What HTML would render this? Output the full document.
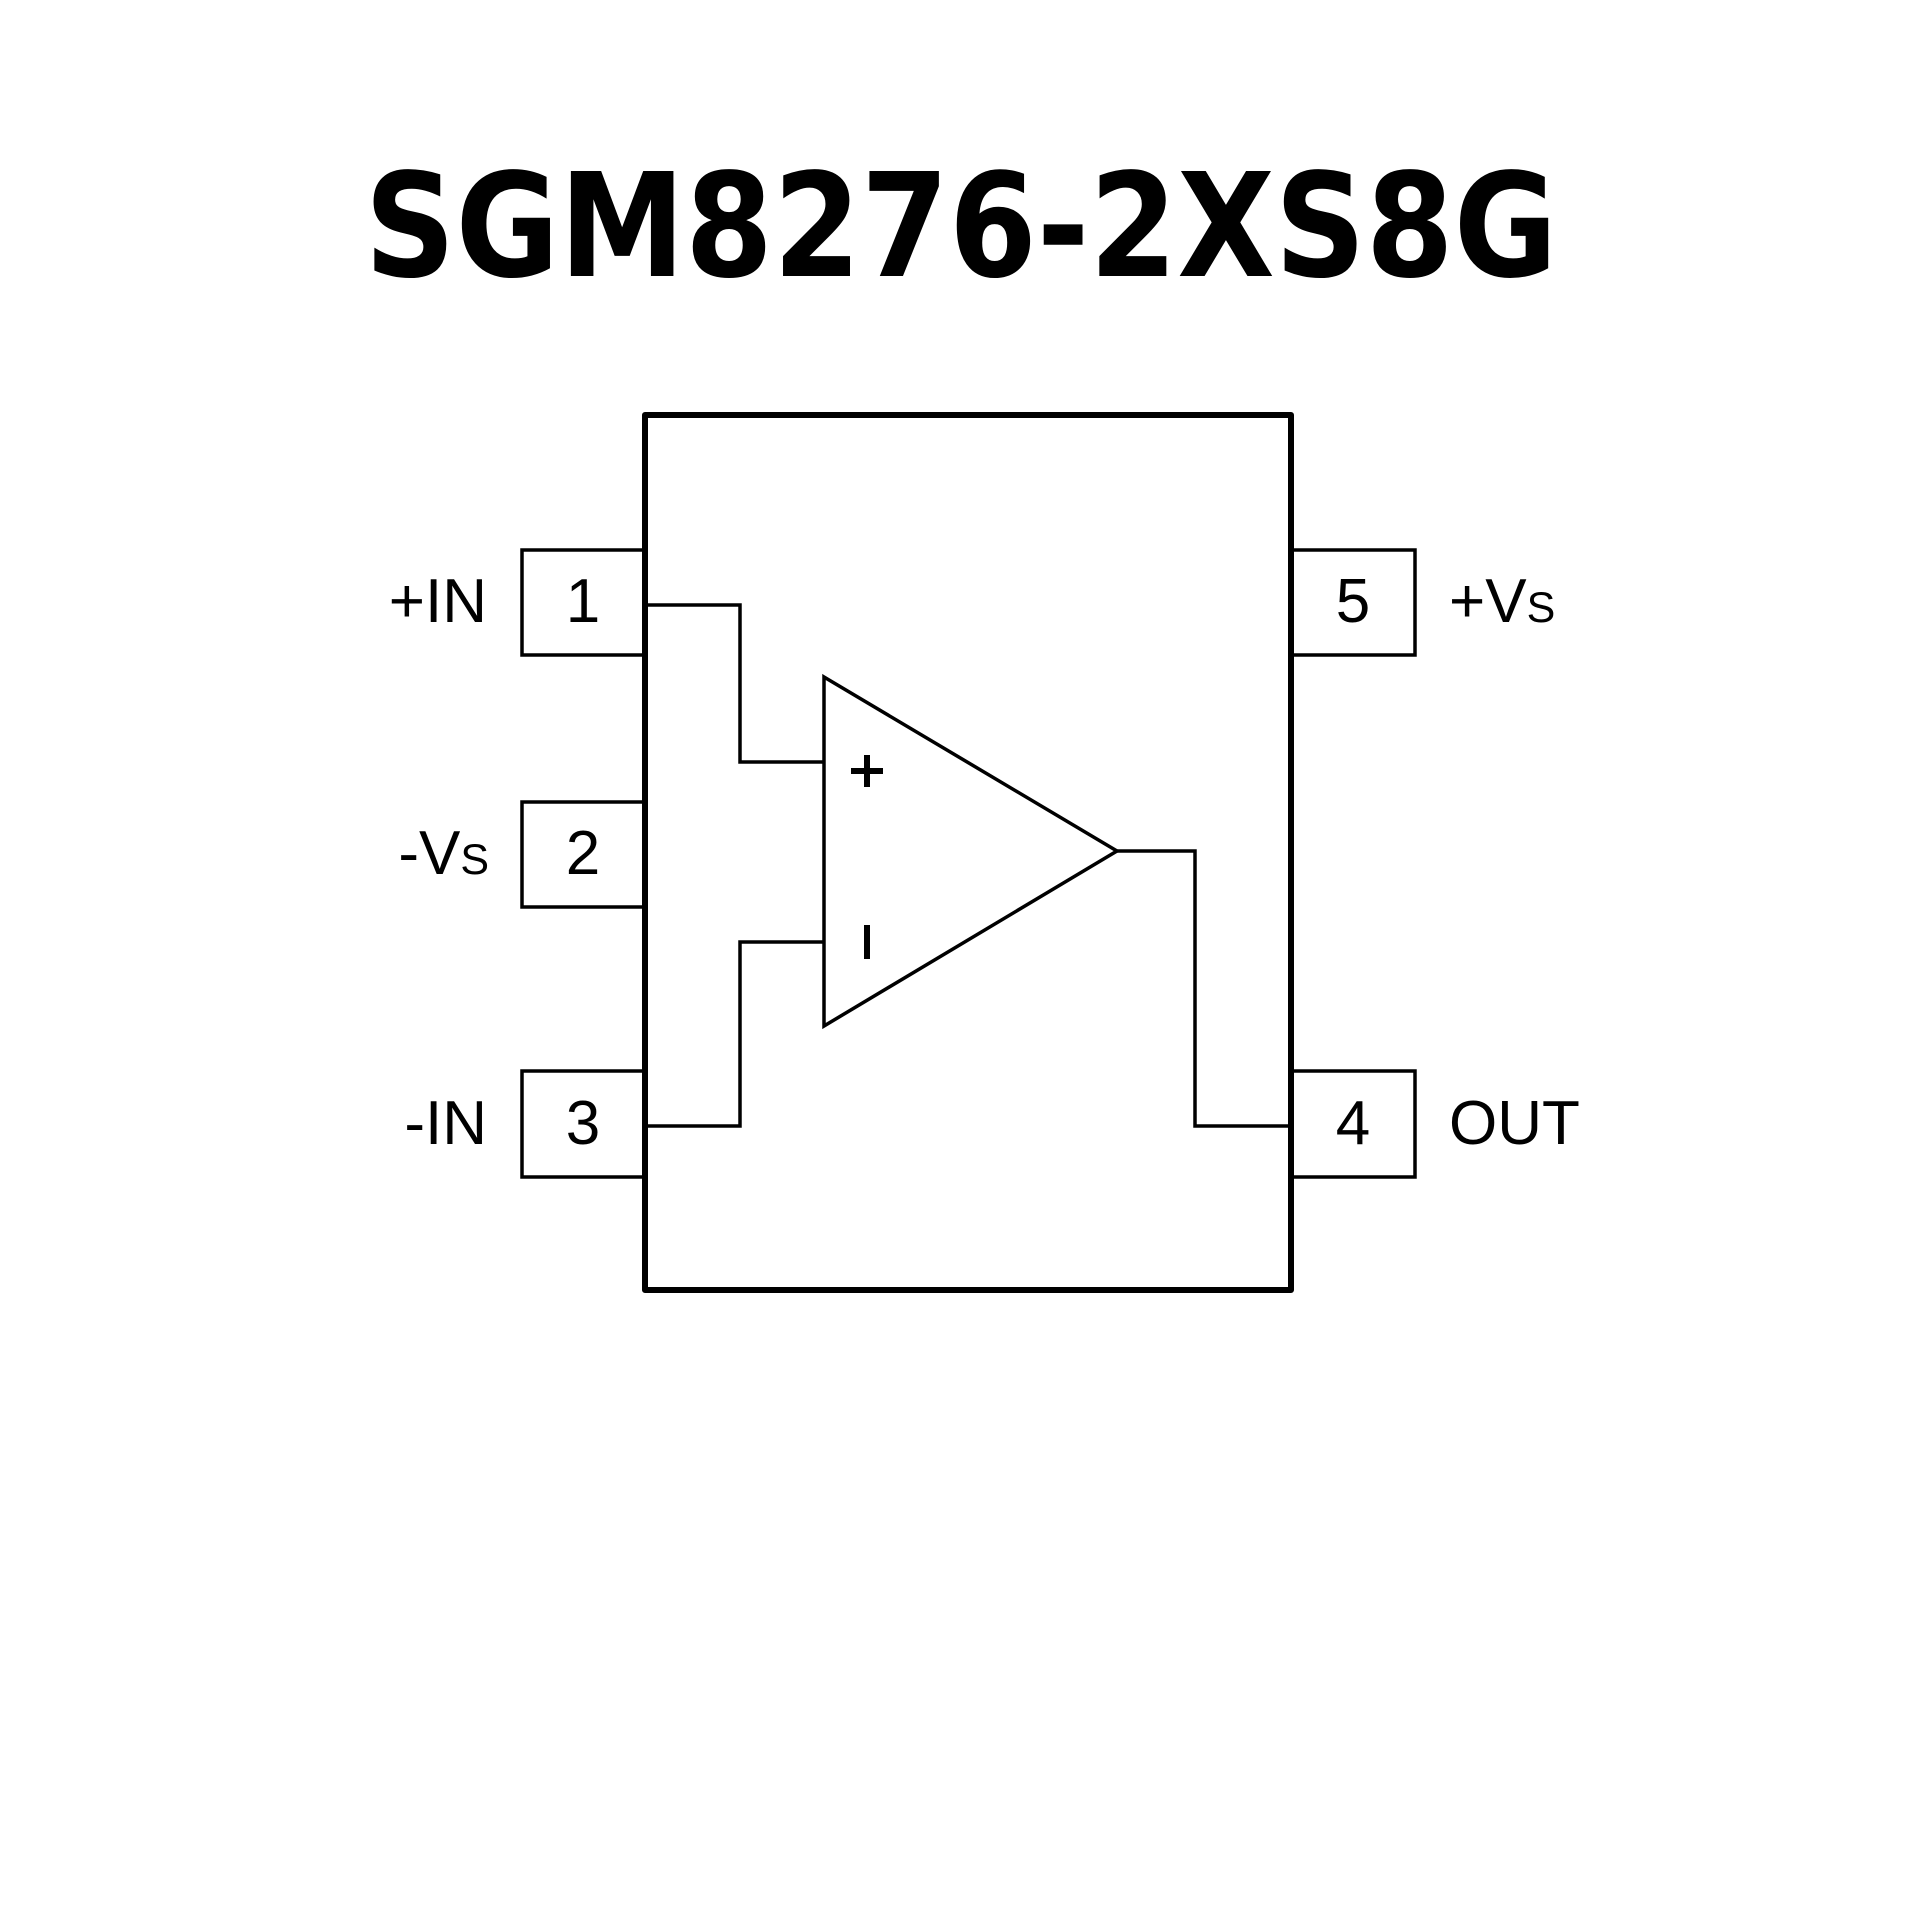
<!DOCTYPE html>
<html><head><meta charset="utf-8"><style>
html,body{margin:0;padding:0;background:#fff;width:1920px;height:1920px;overflow:hidden}
</style></head><body>
<svg width="1920" height="1920" viewBox="0 0 1920 1920" xmlns="http://www.w3.org/2000/svg">
<rect width="1920" height="1920" fill="#fff"/>
<text x="961" y="276" text-anchor="middle" font-family="'DejaVu Sans','Liberation Sans',sans-serif" font-weight="bold" font-size="144" textLength="1193" lengthAdjust="spacingAndGlyphs">SGM8276-2XS8G</text>
<g fill="none" stroke="#000" stroke-width="3.5">
<polyline points="644,550 522,550 522,655 644,655"/>
<polyline points="644,802 522,802 522,907 644,907"/>
<polyline points="644,1071 522,1071 522,1177 644,1177"/>
<polyline points="1293,550 1415,550 1415,655 1293,655"/>
<polyline points="1293,1071 1415,1071 1415,1177 1293,1177"/>
<polyline points="645,605 740,605 740,762 824,762"/>
<polyline points="645,1126 740,1126 740,942 824,942"/>
<polyline points="1117,851 1195,851 1195,1126 1292,1126"/>
<polygon points="824,677 1117,851 824,1026"/>
</g>
<rect x="645" y="415" width="646" height="875" fill="none" stroke="#000" stroke-width="6" stroke-linejoin="round"/>
<g font-family="'Liberation Sans',sans-serif" font-size="62" fill="#000">
<text x="583" y="622" text-anchor="middle">1</text>
<text x="583" y="874" text-anchor="middle">2</text>
<text x="583" y="1144" text-anchor="middle">3</text>
<text x="1353" y="622" text-anchor="middle">5</text>
<text x="1353" y="1144" text-anchor="middle">4</text>
<text x="487" y="622" text-anchor="end">+IN</text>
<text x="489" y="874" text-anchor="end">-V<tspan font-size="43">S</tspan></text>
<text x="487" y="1144" text-anchor="end">-IN</text>
<text x="1449" y="622">+V<tspan font-size="43">S</tspan></text>
<text x="1449" y="1144">OUT</text>
</g>
<rect x="851" y="768" width="32" height="6" fill="#000"/>
<rect x="864" y="755" width="6" height="32" fill="#000"/>
<rect x="864" y="925" width="6" height="34" fill="#000"/>
</svg>
</body></html>
